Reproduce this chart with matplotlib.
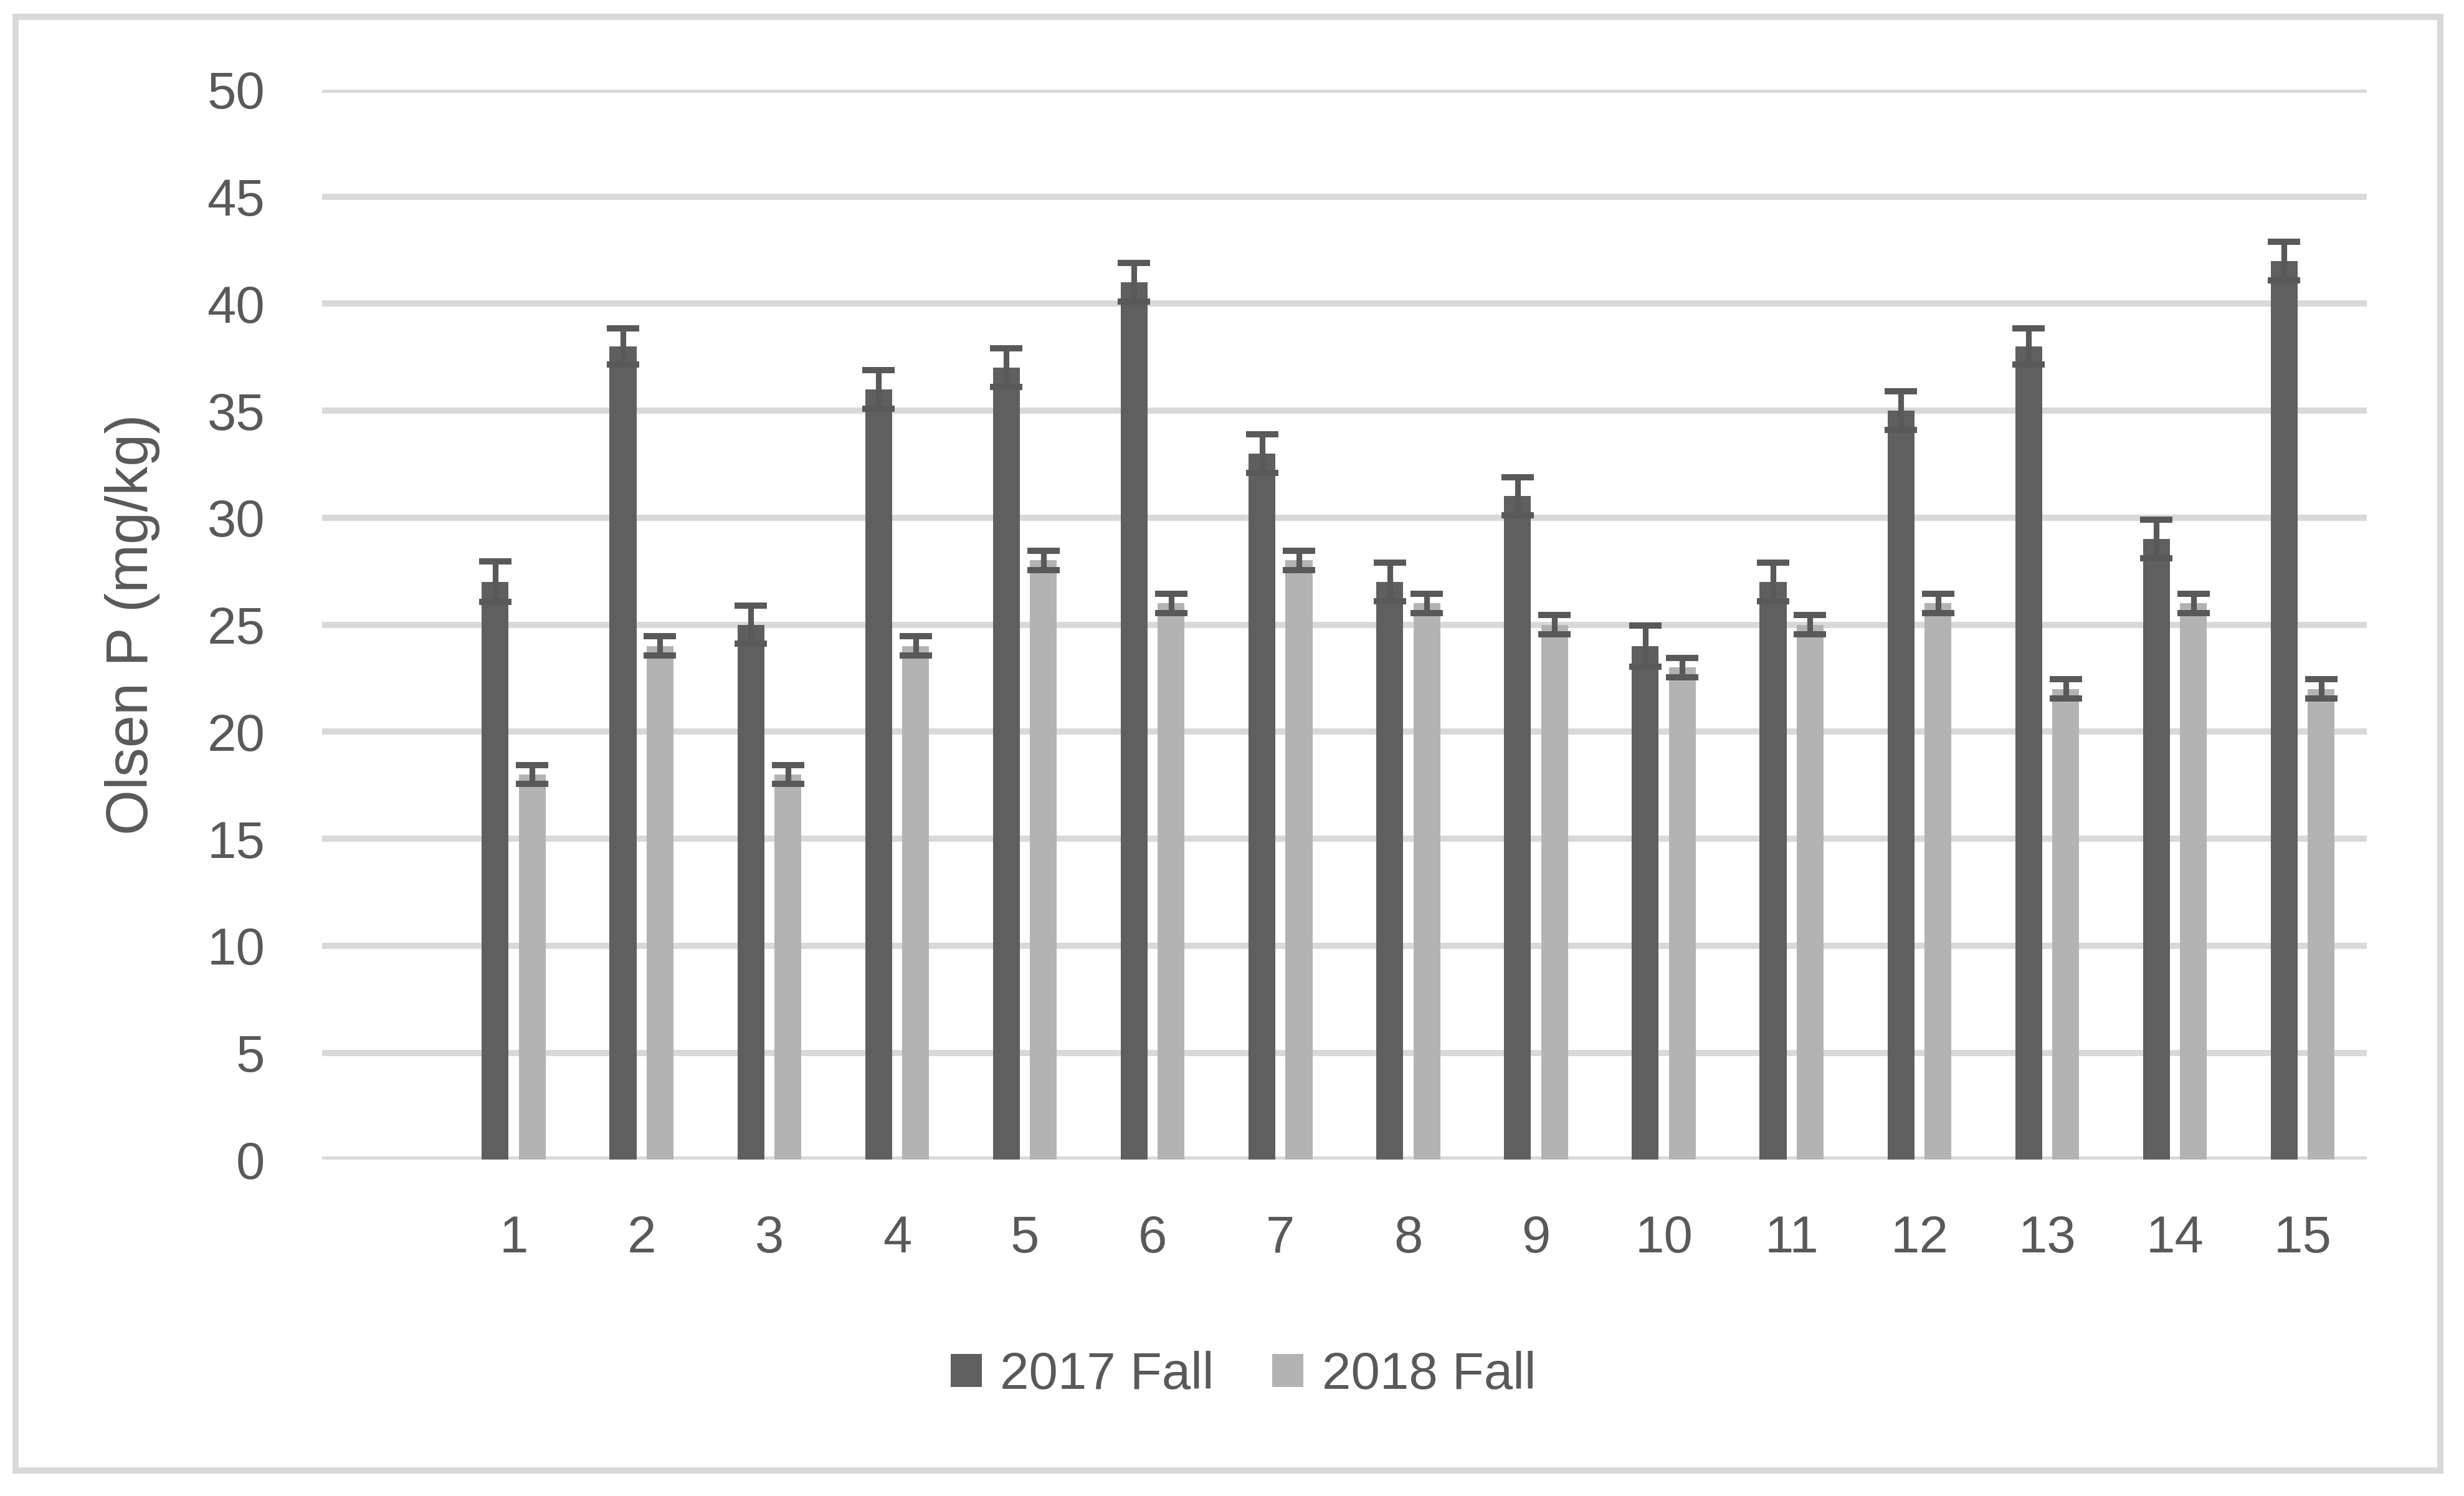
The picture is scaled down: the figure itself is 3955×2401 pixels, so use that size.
import matplotlib.pyplot as plt
import numpy as np
from matplotlib.patches import Rectangle

# plot numbers and Olsen P values
plots = ['1', '2', '3', '4', '5', '6', '7', '8', '9', '10', '11', '12', '13', '14', '15']
fall_2017 = [27, 38, 25, 36, 37, 41, 33, 27, 31, 24, 27, 35, 38, 29, 42]
fall_2018 = [18, 24, 18, 24, 28, 26, 28, 26, 25, 23, 25, 26, 22, 26, 22]
err_2017 = [0.95, 0.85, 0.9, 0.9, 0.9, 0.9, 0.9, 0.9, 0.9, 0.95, 0.9, 0.9, 0.85, 0.9, 0.9]
err_2018 = [0.45, 0.45, 0.45, 0.45, 0.45, 0.45, 0.45, 0.45, 0.45, 0.45, 0.45, 0.45, 0.45, 0.45, 0.45]
yticks = [0, 5, 10, 15, 20, 25, 30, 35, 40, 45, 50]

dark = '#5f5f5f'
light = '#b3b3b3'
grid = '#d9d9d9'
txt = '#595959'

plt.rcParams['font.family'] = ['Liberation Sans', 'DejaVu Sans']

fig = plt.figure(figsize=(3955 / 300, 2401 / 300), dpi=300)
ax = fig.add_axes([0.1307, 0.2248, 0.8298, 0.7153])

x = np.arange(1, len(plots) + 1)
width = 0.21
off = 0.145

ax.bar(x - off, fall_2017, width=width, color=dark, label='2017 Fall', zorder=2)
ax.bar(x + off, fall_2018, width=width, color=light, label='2018 Fall', zorder=2)
ax.errorbar(x - off, fall_2017, yerr=err_2017, fmt='none', ecolor='#595959',
            elinewidth=2.2, capsize=6.2, capthick=2.4, zorder=3)
ax.errorbar(x + off, fall_2018, yerr=err_2018, fmt='none', ecolor='#595959',
            elinewidth=2.2, capsize=6.2, capthick=2.4, zorder=3)

for t in yticks:
    ax.axhline(t, color=grid, lw=2.4, zorder=1)

ax.set_xlim(-0.5, len(plots) + 0.5)
ax.set_ylim(0, 50)
ax.set_yticks(yticks)
ax.set_xticks(x)
ax.set_xticklabels(plots)
ax.tick_params(axis='both', length=0, labelsize=20, colors=txt)
ax.tick_params(axis='y', pad=22)
ax.tick_params(axis='x', pad=21)
for s in ax.spines.values():
    s.set_visible(False)
ax.set_ylabel('Olsen P (mg/kg)', fontsize=22.5, color=txt, labelpad=18)

fig.legend(loc='center', bbox_to_anchor=(0.5045, 0.0809), ncol=2, frameon=False,
           fontsize=20, labelcolor=txt, handlelength=0.6, handleheight=0.6,
           handletextpad=0.35, columnspacing=1.13)

fig.patches.append(Rectangle((0.0063, 0.0171), 0.9841, 0.9717, transform=fig.transFigure,
                             fill=False, edgecolor=grid, lw=2.4))

fig.savefig('out.png', dpi=300, facecolor='white')
